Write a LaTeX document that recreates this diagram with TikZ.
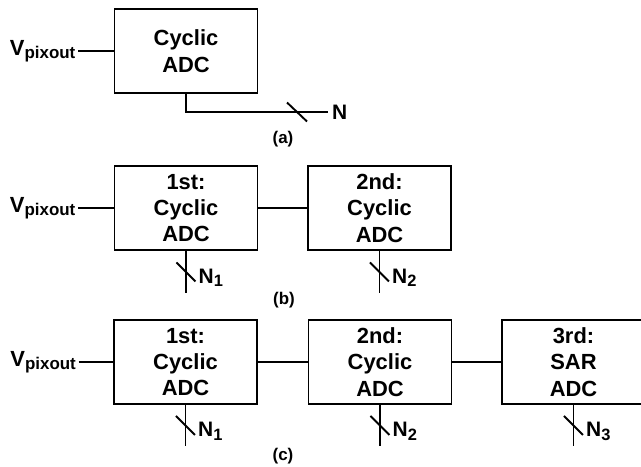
\documentclass[tikz,border=0pt]{standalone}
\usepackage{fontspec}
\setmainfont{Liberation Sans}
\usetikzlibrary{positioning, calc}

\tikzset{
  adc/.style={draw, line width=1.9bp, minimum width=143bp, minimum height=84bp,
    inner sep=0pt, align=center, font=\bfseries\fontsize{22}{26.5}\selectfont},
  wire/.style={line width=1.9bp},
  vlbl/.style={inner sep=0pt, font=\bfseries\fontsize{22}{22}\selectfont},
  nlbl/.style={inner sep=0pt, font=\bfseries\fontsize{21}{21}\selectfont},
  caplbl/.style={inner sep=0pt, font=\bfseries\fontsize{17}{17}\selectfont},
}
\newcommand{\subtxt}[2][16.5]{\raisebox{-3.5bp}{\fontsize{#1}{#1}\selectfont #2}}

\begin{document}
\begin{tikzpicture}[x=1bp, y=-1bp]
  % cadre
  \clip (0,0) rectangle (641,467);

  % (a) un seul ADC cyclique
  \node[adc] (adcA) at (186,51) {Cyclic\\ADC};
  \node[vlbl, left=38bp of adcA] (vinA) {V\subtxt[17]{pixout}};
  \coordinate (outA) at (328,112);
  \coordinate (mA) at (297,112);
  \draw[wire, shorten <=2.5bp] (vinA) -- (adcA);
  \draw[wire] (adcA.south) |- (outA);
  \draw[wire] (mA) ++(-10,-9.5) -- ++(20,19);
  \node[nlbl, right=4bp of outA] (nA) {N};
  \node[caplbl] (capA) at (283,139) {(a)};

  % (b) deux etages
  \node[adc] (adcB1) at (186,208) {1st:\\Cyclic\\ADC};
  \node[adc] (adcB2) at (379.5,208) {2nd:\\Cyclic\\ADC};
  \node[vlbl, left=38bp of adcB1] (vinB) {V\subtxt[17]{pixout}};
  \coordinate[below=42bp of adcB1.south] (outB1);
  \coordinate[below=42bp of adcB2.south] (outB2);
  \draw[wire, shorten <=2.5bp] (vinB) -- (adcB1);
  \draw[wire] (adcB1) -- (adcB2);
  \draw[wire] (adcB1.south) -- coordinate[midway] (mB1) (outB1);
  \draw[wire] (adcB2.south) -- coordinate[midway] (mB2) (outB2);
  \draw[wire] (mB1) ++(-9.5,-9.5) -- ++(19,19);
  \draw[wire] (mB2) ++(-9.5,-9.5) -- ++(19,19);
  \node[nlbl, anchor=base west] (nB1) at ($(mB1)+(12.5,11.5)$) {N\subtxt{1}};
  \node[nlbl, anchor=base west] (nB2) at ($(mB2)+(12.5,11.5)$) {N\subtxt{2}};
  \node[caplbl] (capB) at (284,300) {(b)};

  % (c) trois etages
  \node[adc] (adcC1) at (185.5,362) {1st:\\Cyclic\\ADC};
  \node[adc] (adcC2) at (380,362) {2nd:\\Cyclic\\ADC};
  \node[adc] (adcC3) at (573.5,362) {3rd:\\SAR\\ADC};
  \node[vlbl, left=37bp of adcC1] (vinC) {V\subtxt[17]{pixout}};
  \coordinate[below=41bp of adcC1.south] (outC1);
  \coordinate[below=41bp of adcC2.south] (outC2);
  \coordinate[below=41bp of adcC3.south] (outC3);
  \draw[wire, shorten <=2.5bp] (vinC) -- (adcC1);
  \draw[wire] (adcC1) -- (adcC2);
  \draw[wire] (adcC2) -- (adcC3);
  \draw[wire] (adcC1.south) -- coordinate[midway] (mC1) (outC1);
  \draw[wire] (adcC2.south) -- coordinate[midway] (mC2) (outC2);
  \draw[wire] (adcC3.south) -- coordinate[midway] (mC3) (outC3);
  \draw[wire] (mC1) ++(-9.5,-9.5) -- ++(19,19);
  \draw[wire] (mC2) ++(-9.5,-9.5) -- ++(19,19);
  \draw[wire] (mC3) ++(-9.5,-9.5) -- ++(19,19);
  \node[nlbl, anchor=base west] (nC1) at ($(mC1)+(12.5,11.5)$) {N\subtxt{1}};
  \node[nlbl, anchor=base west] (nC2) at ($(mC2)+(12.5,11.5)$) {N\subtxt{2}};
  \node[nlbl, anchor=base west] (nC3) at ($(mC3)+(12.5,11.5)$) {N\subtxt{3}};
  \node[caplbl] (capC) at (283,456) {(c)};
\end{tikzpicture}
\end{document}
